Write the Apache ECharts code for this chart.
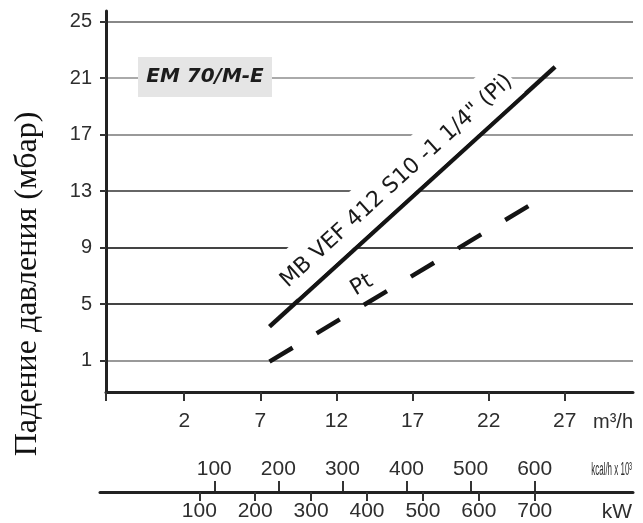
<!DOCTYPE html>
<html>
<head>
<meta charset="utf-8">
<script src="https://cdn.jsdelivr.net/npm/echarts@6/dist/echarts.min.js"></script>
<style>
html,body{margin:0;padding:0;background:#fff;}
#c{width:643px;height:523px;}
</style>
</head>
<body>
<div id="c"></div>
<script>
// ---- data ----
const flowTicks = [2, 7, 12, 17, 22, 27];            // m3/h
const dropTicks = [1, 5, 9, 13, 17, 21, 25];         // mbar
const kcalTicks = [100, 200, 300, 400, 500, 600];    // kcal/h x 10^3
const kwTicks = [100, 200, 300, 400, 500, 600, 700]; // kW
const piFlow = [7.6, 26.36];
const piDrop = [3.41, 21.8];
const ptFlow = [7.6, 24.72];
const ptDrop = [0.93, 12.02];
const piName = 'MB VEF 412 S10 -1 1/4" (Pi)';
const ptName = 'Pt';

// ---- axis ranges ----
const xMin = -3.14, xMax = 31.48;
const yMin = -1.22, yMax = 25.76;
const kcalMin = -78.3, kcalMax = 753.4;
const kwMin = -77.6, kwMax = 875.8;

const numFont = 'Liberation Sans';
const textCol = '#2e2e2e';

const piData = piFlow.map((x, i) => [x, piDrop[i]]);
const ptData = ptFlow.map((x, i) => [x, ptDrop[i]]);
const ptLabelEnd = [ptFlow[0] + 0.78 * (ptFlow[1] - ptFlow[0]), ptDrop[0] + 0.78 * (ptDrop[1] - ptDrop[0])];

const hiddenLine = {width: 0, color: 'rgba(0,0,0,0)', opacity: 1};

const chart = echarts.init(document.getElementById('c'), null, {renderer: 'canvas'});
chart.setOption({
  animation: false,
  backgroundColor: '#fff',
  grid: [
    {left: 106, right: 10, top: 11, bottom: 131, outerBoundsMode: 'none', containLabel: false},
    {left: 100, right: 10, top: 491, height: 1, outerBoundsMode: 'none', containLabel: false}
  ],
  xAxis: [
    {
      type: 'value', gridIndex: 0, min: xMin, max: xMax,
      axisLine: {show: true, onZero: false, lineStyle: {color: '#222', width: 3}},
      axisTick: {show: true, length: 9, customValues: [xMin].concat(flowTicks), lineStyle: {color: '#333', width: 2}},
      axisLabel: {customValues: flowTicks, margin: 19, fontFamily: numFont, fontSize: 21, color: textCol},
      splitLine: {show: false}
    },
    {
      type: 'value', gridIndex: 1, position: 'top', min: kcalMin, max: kcalMax,
      axisLine: {show: false, onZero: false},
      axisTick: {show: true, length: 10, customValues: kcalTicks, lineStyle: {color: '#333', width: 2}},
      axisLabel: {customValues: kcalTicks, margin: 11, fontFamily: numFont, fontSize: 21, color: textCol},
      splitLine: {show: false}
    },
    {
      type: 'value', gridIndex: 1, position: 'bottom', min: kwMin, max: kwMax,
      axisLine: {show: true, onZero: false, lineStyle: {color: '#222', width: 3}},
      axisTick: {show: true, length: 9, customValues: kwTicks, lineStyle: {color: '#333', width: 2}},
      axisLabel: {customValues: kwTicks, margin: 9, fontFamily: numFont, fontSize: 21, color: textCol},
      splitLine: {show: false}
    }
  ],
  yAxis: [
    {
      type: 'value', gridIndex: 0, min: yMin, max: yMax,
      axisLine: {show: true, onZero: false, lineStyle: {color: '#222', width: 3}},
      axisTick: {show: true, length: 6, customValues: dropTicks, lineStyle: {color: '#333', width: 2}},
      axisLabel: {customValues: dropTicks, margin: 14, fontFamily: numFont, fontSize: 20, color: textCol},
      splitLine: {show: true, lineStyle: {width: 2, color: ['#999', '#444', '#444', '#666', '#999', '#aaa', '#888']}}
    },
    {
      type: 'value', gridIndex: 1, min: 0, max: 1, show: false
    }
  ],
  graphic: [
    {type: 'rect', z: 10, shape: {x: 138, y: 57, width: 134, height: 40}, style: {fill: '#e5e5e5'}},
    {type: 'text', z: 11, x: 205, y: 77, style: {text: 'EM 70/M-E', fontFamily: 'DejaVu Sans', fontWeight: 'bold', fontStyle: 'italic', fontSize: 20, fill: '#1c1c1c', textAlign: 'center', textVerticalAlign: 'middle'}},
    {type: 'text', z: 11, x: 28, y: 284, rotation: Math.PI / 2, style: {text: 'Падение давления (мбар)', fontFamily: 'Liberation Serif', fontSize: 32, fill: '#111', textAlign: 'center', textVerticalAlign: 'middle'}},
    {type: 'text', z: 11, x: 633, y: 422, style: {text: 'm³/h', fontFamily: numFont, fontSize: 20, fill: textCol, textAlign: 'right', textVerticalAlign: 'middle'}},
    {type: 'text', z: 11, x: 632, y: 470, scaleX: 0.42, style: {text: 'kcal/h x 10³', fontFamily: numFont, fontSize: 19, fill: textCol, textAlign: 'right', textVerticalAlign: 'middle'}},
    {type: 'text', z: 11, x: 632, y: 512, style: {text: 'kW', fontFamily: numFont, fontSize: 21, fill: textCol, textAlign: 'right', textVerticalAlign: 'middle'}}
  ],
  series: [
    {
      type: 'line', name: piName, xAxisIndex: 0, yAxisIndex: 0, data: piData,
      symbol: 'none', silent: true,
      lineStyle: {color: '#141414', width: 4.5, cap: 'butt'},
      markLine: {
        silent: true, symbol: ['none', 'none'], animation: false,
        lineStyle: hiddenLine,
        label: {show: true, opacity: 1, position: 'insideMiddleTop', formatter: piName, distance: 2,
          backgroundColor: '#fff', padding: [13, 2, 9, 0],
          fontFamily: 'DejaVu Sans', fontSize: 22, color: '#1a1a1a'},
        data: [[{coord: piData[0]}, {coord: piData[1]}]]
      }
    },
    {
      type: 'line', name: ptName, xAxisIndex: 0, yAxisIndex: 0, data: ptData,
      symbol: 'none', silent: true,
      lineStyle: {color: '#141414', width: 4.5, type: [27, 28], cap: 'butt'},
      markLine: {
        silent: true, symbol: ['none', 'none'], animation: false,
        lineStyle: hiddenLine,
        label: {show: true, opacity: 1, position: 'insideMiddleTop', formatter: ptName, distance: 7,
          fontFamily: 'DejaVu Sans', fontSize: 22, color: '#1a1a1a'},
        data: [[{coord: ptData[0]}, {coord: ptLabelEnd}]]
      }
    }
  ]
});
</script>
</body>
</html>
